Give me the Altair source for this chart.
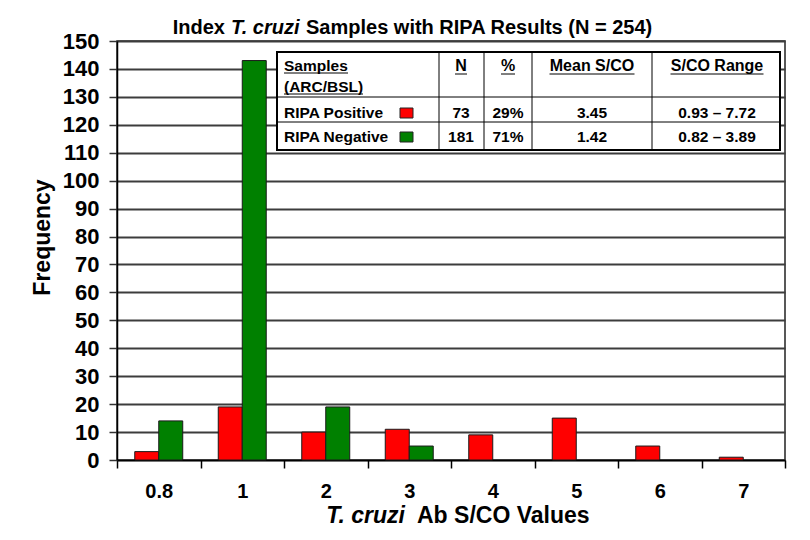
import altair as alt
import pandas as pd

# histogram data
categories = ["0.8", "1", "2", "3", "4", "5", "6", "7"]
ripa_positive = [3, 19, 10, 11, 9, 15, 5, 1]
ripa_negative = [14, 143, 19, 5, 0, 0, 0, 0]
y_ticks = list(range(0, 151, 10))

# inset table
groups = ["RIPA Positive", "RIPA Negative"]
group_colors = ["#FF0000", "#008000"]
group_n = ["73", "181"]
group_pct = ["29%", "71%"]
group_mean = ["3.45", "1.42"]
group_range = ["0.93 \u2013 7.72", "0.82 \u2013 3.89"]
header_cols = ["N", "%", "Mean S/CO", "S/CO Range"]

FONT = "Liberation Sans"

df = pd.DataFrame({
    "Value": categories * 2,
    "Group": [groups[0]] * len(categories) + [groups[1]] * len(categories),
    "Frequency": ripa_positive + ripa_negative,
})
df = df[df["Frequency"] > 0]

bars = alt.Chart(df).mark_bar(stroke="#1a1a1a", strokeWidth=1).encode(
    x=alt.X("Value:N", sort=categories,
            scale=alt.Scale(domain=categories, paddingInner=0, paddingOuter=0),
            axis=alt.Axis(title=None, labelAngle=0, labelFontSize=20, labelFontWeight="bold",
                          labelColor="black", labelPadding=13, tickSize=8, tickBand="extent",
                          tickColor="black", tickWidth=1.5, domainColor="black", domainWidth=1.5,
                          grid=False)),
    xOffset=alt.XOffset("Group:N", sort=groups,
                        scale=alt.Scale(domain=groups, paddingInner=0, paddingOuter=0.74)),
    y=alt.Y("Frequency:Q", scale=alt.Scale(domain=[0, 150], nice=False),
            axis=alt.Axis(values=y_ticks, title="Frequency", titleFontSize=23, titleFontWeight="bold",
                          titleColor="black", titleX=-68, titleY=196, titleAngle=270,
                          titleAlign="center", titleBaseline="alphabetic",
                          labelFontSize=22, labelFontWeight="bold", labelColor="black",
                          labelPadding=10, tickSize=8, tickColor="#333", tickWidth=1.5,
                          domainColor="black", domainWidth=1.5,
                          grid=True, gridColor="#3c3c3c", gridWidth=1.8)),
    color=alt.Color("Group:N", scale=alt.Scale(domain=groups, range=group_colors), legend=None),
)

one = pd.DataFrame({"k": [0]})


def label(text, x, y, size=15.5, align="center", italic=False, baseline="middle"):
    return alt.Chart(pd.DataFrame({"t": [text]})).mark_text(
        align=align, baseline=baseline, fontSize=size, fontWeight="bold",
        fontStyle="italic" if italic else "normal", font=FONT, color="black"
    ).encode(x=alt.value(x), y=alt.value(y), text="t:N")


def hline(x1, x2, y, w=1):
    return alt.Chart(one).mark_rule(color="black", strokeWidth=w).encode(
        x=alt.value(x1), x2=alt.value(x2), y=alt.value(y))


def vline(x, y1, y2, w=1):
    return alt.Chart(one).mark_rule(color="black", strokeWidth=w).encode(
        x=alt.value(x), y=alt.value(y1), y2=alt.value(y2))


layers = [bars]

# table frame
layers.append(alt.Chart(one).mark_rect(fill="white", stroke="black", strokeWidth=2).encode(
    x=alt.value(160), x2=alt.value(663), y=alt.value(11), y2=alt.value(109)))
for cx in [322, 367, 415, 535]:
    layers.append(vline(cx, 11, 109))
for cy in [56, 81]:
    layers.append(hline(160, 663, cy))

# header (underlined)
layers.append(label("Samples", 167, 25, align="left"))
layers.append(hline(167, 231, 32))
layers.append(label("(ARC/BSL)", 167, 46, align="left"))
layers.append(hline(167, 246, 53))
col_centers = [344, 391, 475, 600]
underline_half = [6, 7, 42.5, 46.5]
for name, cx, hw in zip(header_cols, col_centers, underline_half):
    layers.append(label(name, cx, 25, size=16))
    layers.append(hline(cx - hw, cx + hw, 33))

# rows
row_y = [72, 96]
for i, g in enumerate(groups):
    ry = row_y[i]
    layers.append(label(g, 167, ry, align="left"))
    layers.append(alt.Chart(one).mark_rect(fill=group_colors[i], stroke="#222", strokeWidth=1).encode(
        x=alt.value(283), x2=alt.value(296), y=alt.value(ry - 5), y2=alt.value(ry + 5)))
    for val, cx in zip([group_n[i], group_pct[i], group_mean[i], group_range[i]], col_centers):
        layers.append(label(val, cx, ry))

# chart title with italic species name
layers.append(label("Index", 108, -7, size=20, align="right", baseline="alphabetic"))
layers.append(label("T. cruzi", 114, -7, size=20, align="left", italic=True, baseline="alphabetic"))
layers.append(label("Samples with RIPA Results (N = 254)", 189, -7, size=20, align="left",
                    baseline="alphabetic"))

# x axis title
layers.append(label("T. cruzi", 288, 482, size=23, align="right", italic=True, baseline="alphabetic"))
layers.append(label("Ab S/CO Values", 300, 482, size=23, align="left", baseline="alphabetic"))

chart = alt.layer(*layers).properties(
    width=668,
    height=419,
    autosize=alt.AutoSizeParams(type="none"),
    padding={"left": 109, "top": 33, "right": 17, "bottom": 75},
).configure(
    font=FONT,
    background="white",
).configure_view(
    stroke="#222",
    strokeWidth=1.5,
)

chart.save("out.html", embed_options={"renderer": "svg", "actions": False})
